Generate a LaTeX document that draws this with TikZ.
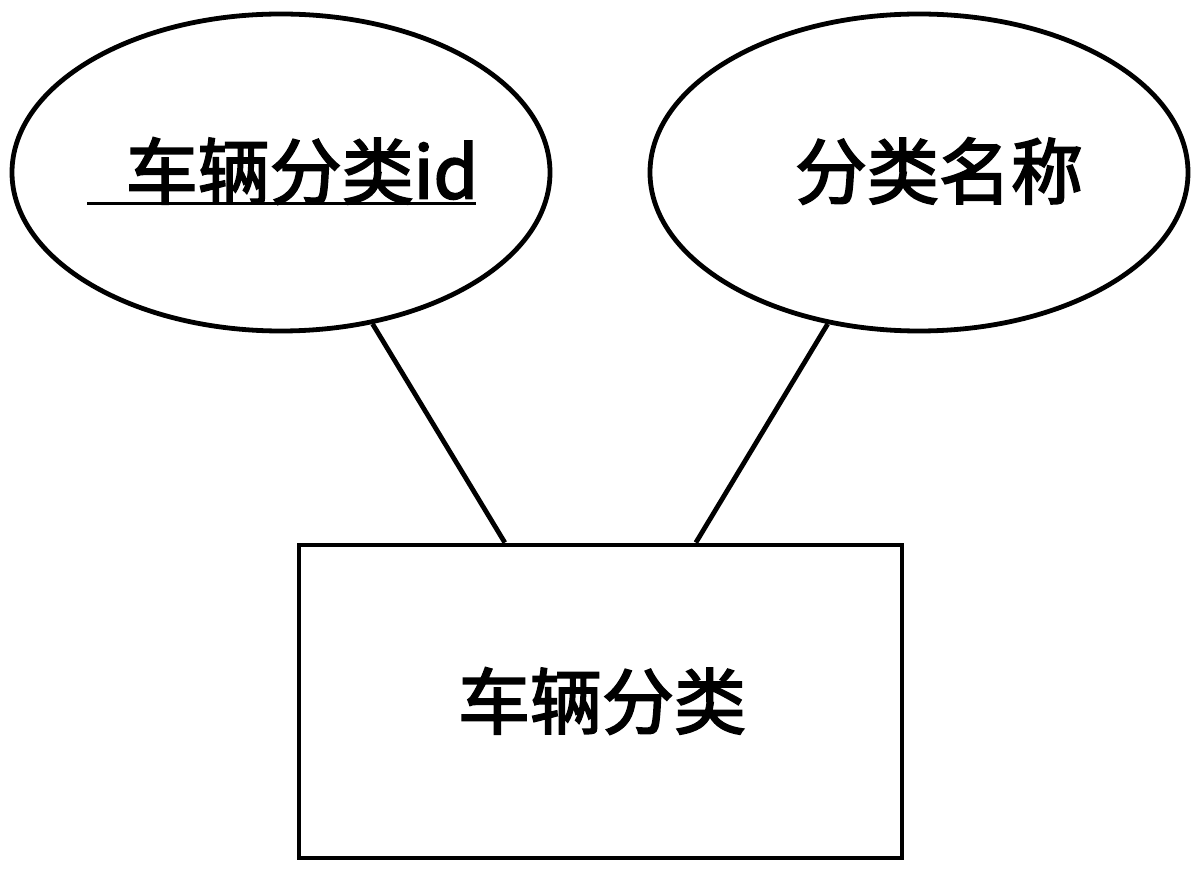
\documentclass[tikz,border=0pt]{standalone}
\usepackage{fontspec}
\setmainfont{Noto Sans CJK SC}
\newfontfamily\cjkmed{Noto Sans CJK SC}[FakeBold=2.6]
\usetikzlibrary{shapes.geometric}

\begin{document}
\begin{tikzpicture}[x=0.5pt, y=-0.5pt, line width=2.4pt,
  attr/.style={draw, ellipse, minimum width=269pt, minimum height=158.5pt, inner sep=0pt},
  entity/.style={draw, rectangle, minimum width=301.5pt, minimum height=156.5pt, inner sep=0pt},
  txt/.style={font=\fontsize{36}{40}\cjkmed, inner sep=0pt}]
  \useasboundingbox (0,0) rectangle (1200,871);

  \node[attr] (catid) at (281,172.5) {};
  \node[attr] (catname) at (919,172.5) {};
  \node[entity] (cat) at (600.5,701.5) {};

  \node[txt] (catidtext) at (302,171) {车辆分类id};
  \node[txt] (catnametext) at (939,171) {分类名称};
  \node[txt] (cattext) at (602,701) {车辆分类};

  \coordinate (ulstart) at (87,204);
  \coordinate (ulend) at (476,204);
  \draw[line width=1.5pt] (ulstart) -- (ulend);

  \draw (catid) -- (cat);
  \draw (catname) -- (cat);
\end{tikzpicture}
\end{document}
